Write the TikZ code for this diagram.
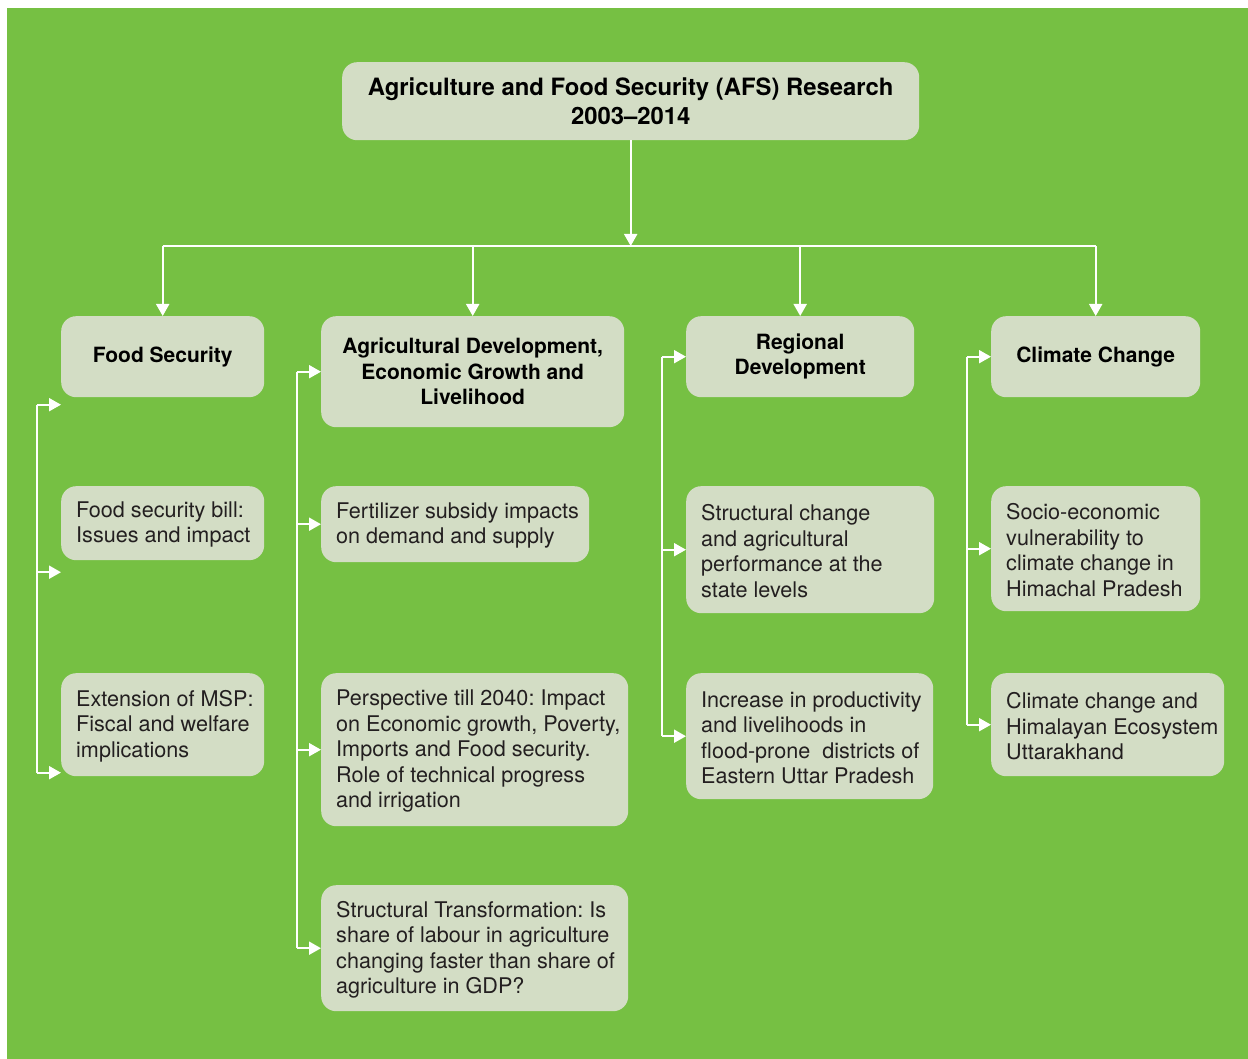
\documentclass[tikz,border=0pt]{standalone}
\usepackage{fontspec}
\setmainfont{TeX Gyre Heros}
\usetikzlibrary{arrows.meta,calc}
\definecolor{bggreen}{RGB}{118,192,67}
\definecolor{boxfill}{RGB}{211,221,197}
\definecolor{txt}{RGB}{35,31,32}
\frenchspacing
\begin{document}
\begin{tikzpicture}[x=1pt,y=-1pt,
  box/.style={fill=boxfill, draw=none, rounded corners=15pt, anchor=north west, inner sep=0pt},
  head/.style={box, align=center, font=\fontsize{21}{25.5}\selectfont\bfseries, text=black},
  body/.style={anchor=west, align=left, inner sep=0pt, yshift=-1.5pt, font=\fontsize{21.6}{25.5}\selectfont, text=txt},
  wline/.style={draw=white, line width=2pt},
  link/.style={draw=white, line width=2pt, -{Triangle[length=12pt,width=13pt]}}
]
% background
\fill[white] (0,0) rectangle (1248,1059);
\fill[bggreen] (7,8) rectangle (1248,1059);

% title
\node[head, minimum width=577pt, minimum height=78pt, font=\fontsize{23.85}{29}\selectfont\bfseries] (title) at (342,62)
  {Agriculture and Food Security (AFS) Research\\2003--2014};

% headers
\node[head, minimum width=203pt, minimum height=81pt] (fs) at (61,316) {Food Security};
\node[head, minimum width=303pt, minimum height=111pt] (ad) at (321,316) {Agricultural Development,\\Economic Growth and\\Livelihood};
\node[head, minimum width=228pt, minimum height=81pt] (rd) at (686,316) {Regional\\Development};
\node[head, minimum width=209pt, minimum height=81pt] (cc) at (991,316) {Climate Change};

% column 1 boxes
\node[box, minimum width=203pt, minimum height=74pt] (fs1) at (61,486) {};
\node[body] (fs1t) at ([xshift=15pt]fs1.west) {Food security bill:\\Issues and impact};
\node[box, minimum width=203pt, minimum height=103pt] (fs2) at (61,673) {};
\node[body] (fs2t) at ([xshift=15pt]fs2.west) {Extension of MSP:\\Fiscal and welfare\\implications};

% column 2 boxes
\node[box, minimum width=268pt, minimum height=76pt] (ad1) at (321,486) {};
\node[body] (ad1t) at ([xshift=15pt]ad1.west) {Fertilizer subsidy impacts\\on demand and supply};
\node[box, minimum width=307pt, minimum height=153pt] (ad2) at (321,673) {};
\node[body] (ad2t) at ([xshift=15pt]ad2.west) {Perspective till 2040: Impact\\on Economic growth, Poverty,\\Imports and Food security.\\Role of technical progress\\and irrigation};
\node[box, minimum width=307pt, minimum height=126pt] (ad3) at (321,885) {};
\node[body] (ad3t) at ([xshift=15pt]ad3.west) {Structural Transformation: Is\\share of labour in agriculture\\changing faster than share of\\agriculture in GDP?};

% column 3 boxes
\node[box, minimum width=248pt, minimum height=127pt] (rd1) at (686,486) {};
\node[body] (rd1t) at ([xshift=15pt]rd1.west) {Structural change\\and agricultural\\performance at the\\state levels};
\node[box, minimum width=247pt, minimum height=126pt] (rd2) at (686,673) {};
\node[body] (rd2t) at ([xshift=15pt]rd2.west) {Increase in productivity\\and livelihoods in\\flood-prone\ \ districts of\\Eastern Uttar Pradesh};

% column 4 boxes
\node[box, minimum width=209pt, minimum height=125pt] (cc1) at (991,486) {};
\node[body] (cc1t) at ([xshift=15pt]cc1.west) {Socio-economic\\vulnerability to\\climate change in\\Himachal Pradesh};
\node[box, minimum width=233pt, minimum height=103pt] (cc2) at (991,673) {};
\node[body] (cc2t) at ([xshift=15pt]cc2.west) {Climate change and\\Himalayan Ecosystem\\Uttarakhand};

% trunk
\coordinate (tr) at (630,246);
\draw[link] (title.south) -- (title.south |- tr);
\draw[wline] (fs.north |- tr) -- (cc.north |- tr);
\foreach \n in {fs,ad,rd,cc}{
  \draw[link] (\n.north |- tr) -- (\n.north);
}

% spines
\coordinate (sp1) at (37,0);
\coordinate (sp2) at (297,0);
\coordinate (sp3) at (662,0);
\coordinate (sp4) at (967,0);

% column 1 (arrows offset below boxes as in the reference)
\coordinate (f0) at ($(fs.west)+(0,48)$);
\coordinate (f1) at ($(fs1.west)+(0,49)$);
\coordinate (f2) at ($(fs2.west)+(0,48)$);
\draw[wline] (f0 -| sp1) -- (f2 -| sp1);
\foreach \c in {f0,f1,f2}{ \draw[link] (\c -| sp1) -- (\c); }

% column 2
\draw[wline] (ad.west -| sp2) -- (ad3.west -| sp2);
\foreach \n in {ad,ad1,ad2,ad3}{ \draw[link] (\n.west -| sp2) -- (\n.west); }

% column 3
\draw[wline] (rd.west -| sp3) -- (rd2.west -| sp3);
\foreach \n in {rd,rd1,rd2}{ \draw[link] (\n.west -| sp3) -- (\n.west); }

% column 4
\draw[wline] (cc.west -| sp4) -- (cc2.west -| sp4);
\foreach \n in {cc,cc1,cc2}{ \draw[link] (\n.west -| sp4) -- (\n.west); }
\end{tikzpicture}
\end{document}
